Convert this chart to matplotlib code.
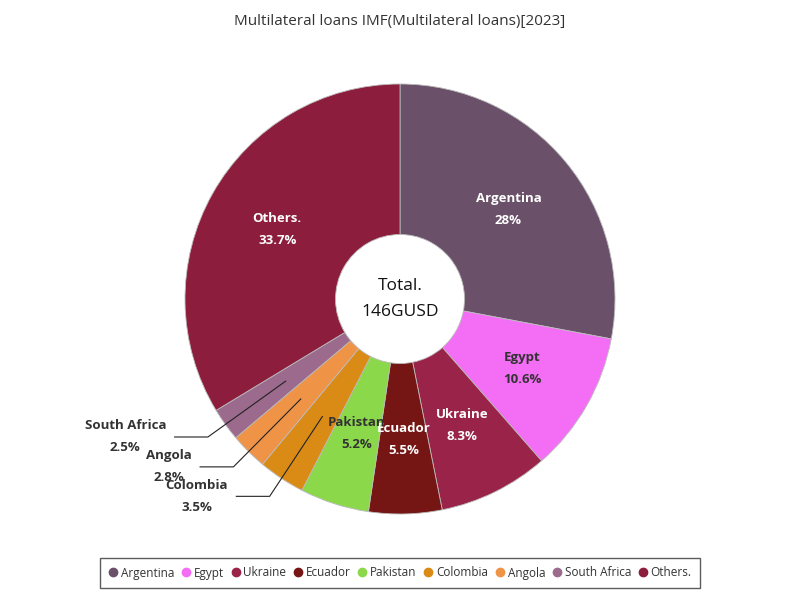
import numpy as np
import matplotlib.pyplot as plt
from matplotlib.lines import Line2D

plt.rcParams['font.family'] = ['Open Sans', 'DejaVu Sans']

countries = ['Argentina', 'Egypt', 'Ukraine', 'Ecuador', 'Pakistan',
             'Colombia', 'Angola', 'South Africa', 'Others.']
shares = [28, 10.6, 8.3, 5.5, 5.2, 3.5, 2.8, 2.5, 33.7]
pct_labels = ['28%', '10.6%', '8.3%', '5.5%', '5.2%', '3.5%', '2.8%', '2.5%', '33.7%']
colors = ['#6a5069', '#f46ef5', '#9a2449', '#761614', '#8cd84b',
          '#d98b16', '#ef9447', '#9b6a8c', '#8c1d3d']
dark_text = ['Egypt', 'Pakistan']
outside = ['Colombia', 'Angola', 'South Africa']
total_label = '146GUSD'

fig = plt.figure(figsize=(8, 6), dpi=100)
fig.text(0.5, 0.965, 'Multilateral loans IMF(Multilateral loans)[2023]',
         ha='center', va='center', fontsize=11, color='#333333')

# pie centre at (400, 299) px, radius 215 px
R = 215
ax = fig.add_axes([(400 - R) / 800, (600 - 299 - R) / 600, 2 * R / 800, 2 * R / 600])
wedges, _ = ax.pie(shares, colors=colors, startangle=90, counterclock=False,
                   radius=1, wedgeprops=dict(width=0.70, edgecolor='#bbbbbb', linewidth=0.6))
ax.set_xlim(-1, 1)
ax.set_ylim(-1, 1)
ax.set_aspect('equal')
ax.axis('off')

total = sum(shares)
cum = 0
for name, val, pct in zip(countries, shares, pct_labels):
    mid = cum + val / 2
    cum += val
    ang = np.deg2rad(90 - mid / total * 360)
    x, y = 0.655 * np.cos(ang), 0.655 * np.sin(ang)
    if name in outside:
        bx, by = 1.10 * np.cos(ang), 1.10 * np.sin(ang)
        ex = bx - 0.155
        ax.plot([x, bx, ex], [y, by, by], color='#222222', lw=0.8, clip_on=False)
        ax.text(ex - 0.04, by, f'{name}\n{pct}', ha='right', va='center',
                multialignment='center', fontsize=9.5, fontweight='bold',
                color='#333333', linespacing=1.9, clip_on=False)
    else:
        tc = '#333333' if name in dark_text else 'white'
        ax.text(x, y, f'{name}\n{pct}', ha='center', va='center',
                fontsize=9.5, fontweight='bold', color=tc, linespacing=1.9)

ax.text(0, 0, f'Total.\n{total_label}', ha='center', va='center',
        fontsize=12.5, color='#111111', linespacing=1.75)

handles = [Line2D([0], [0], marker='o', linestyle='', markersize=6,
                  markerfacecolor=c, markeredgecolor=c) for c in colors]
leg = fig.legend(handles, countries, loc='center', bbox_to_anchor=(0.5, 0.045),
                 ncol=9, fontsize=8.5, frameon=True, handletextpad=0.25,
                 handlelength=0.8, columnspacing=0.6, borderpad=0.7, fancybox=False)
leg.get_frame().set_edgecolor('#333333')
leg.get_frame().set_linewidth(1)
for t in leg.get_texts():
    t.set_color('#333333')

fig.savefig('out.png', dpi=100)
